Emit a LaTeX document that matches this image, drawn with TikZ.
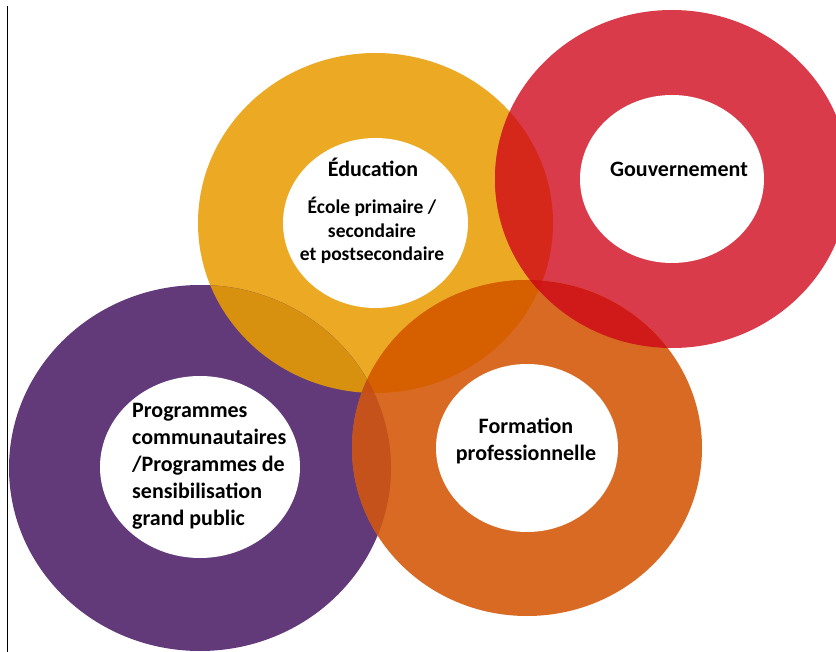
\documentclass[tikz,border=0pt]{standalone}
\usepackage{fontspec}
\setmainfont{Carlito}
\definecolor{cY}{HTML}{ECA923}
\definecolor{cR}{HTML}{D93B4B}
\definecolor{cP}{HTML}{623A7A}
\definecolor{cO}{HTML}{D86A24}
\definecolor{cYP}{HTML}{D8910F}
\definecolor{cYR}{HTML}{D5281A}
\definecolor{cYO}{HTML}{D66000}
\definecolor{cOR}{HTML}{D01A1A}
\definecolor{cPO}{HTML}{C4521A}
\definecolor{cYRO}{HTML}{CD1614}
\definecolor{cYPO}{HTML}{C64F12}
\tikzset{
  lbl/.style={inner sep=0pt, font=\bfseries\fontsize{22}{27}\selectfont, text=black},
  sublbl/.style={inner sep=0pt, font=\bfseries\fontsize{19.5}{23.5}\selectfont, text=black, align=center},
}
\newcommand{\ellY}{(375.5,223) ellipse [x radius=177.5, y radius=170]}
\newcommand{\ellR}{(672,179) ellipse [x radius=177, y radius=169]}
\newcommand{\ellP}{(200,468) ellipse [x radius=191, y radius=183]}
\newcommand{\ellO}{(527,448) ellipse [x radius=175, y radius=168]}
\begin{document}
\begin{tikzpicture}[x=1pt,y=-1pt]
\useasboundingbox (0,0) rectangle (836,652);
\clip (0,0) rectangle (836,652);
\fill[white] (0,0) rectangle (836,652);
% base disks
\fill[cY] \ellY;
\fill[cR] \ellR;
\fill[cP] \ellP;
\fill[cO] \ellO;
% pairwise overlaps
\begin{scope}\clip \ellY; \fill[cYP] \ellP; \end{scope}
\begin{scope}\clip \ellY; \fill[cYR] \ellR; \end{scope}
\begin{scope}\clip \ellY; \fill[cYO] \ellO; \end{scope}
\begin{scope}\clip \ellO; \fill[cOR] \ellR; \end{scope}
\begin{scope}\clip \ellP; \fill[cPO] \ellO; \end{scope}
% triple overlaps
\begin{scope}\clip \ellY; \clip \ellR; \fill[cYRO] \ellO; \end{scope}
\begin{scope}\clip \ellY; \clip \ellP; \fill[cYPO] \ellO; \end{scope}
% inner white disks
\fill[white] (375.5,223) ellipse [x radius=92.5, y radius=85];
\fill[white] (672,179) ellipse [x radius=92, y radius=84];
\fill[white] (200,467) ellipse [x radius=100, y radius=91];
\fill[white] (527,448) ellipse [x radius=91, y radius=84];
% left rule
\draw[black, line width=1.3pt] (7.5,6) -- (7.5,652);
% texts
\node[lbl, anchor=base] (edu) at (373,177) {Éducation};
\node[sublbl, anchor=north] (ecole) at (372,197) {École primaire /\\secondaire\\et postsecondaire};
\node[lbl, anchor=base] (gouv) at (679,177) {Gouvernement};
\node[lbl, anchor=north, align=center] (form) at (526,418) {Formation\\professionnelle};
\node[lbl, anchor=north west, align=left] (prog) at (132,403) {Programmes\\communautaires\\/Programmes de\\sensibilisation\\grand public};
\end{tikzpicture}
\end{document}
